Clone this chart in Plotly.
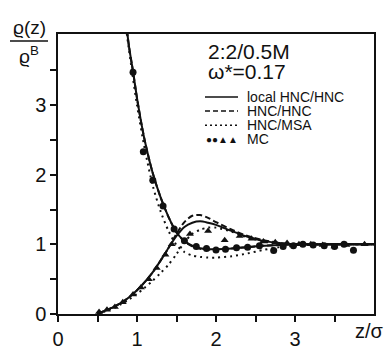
import plotly.graph_objects as go

# ---------------- data ----------------
z_A = [0.86, 0.9, 0.95, 1.0, 1.05, 1.1, 1.2, 1.3, 1.4, 1.5, 1.6, 1.7, 1.8, 1.9, 2.0, 2.2, 2.4, 2.6, 2.8, 3.0, 3.5, 4.0]
local_A = [4.2, 3.83, 3.48, 3.1, 2.77, 2.48, 2.02, 1.67, 1.39, 1.17, 1.05, 0.98, 0.945, 0.93, 0.93, 0.94, 0.96, 0.98, 0.99, 1.0, 1.0, 1.0]
hnc_A = [4.2, 3.83, 3.48, 3.1, 2.77, 2.48, 2.02, 1.67, 1.39, 1.17, 1.04, 0.97, 0.935, 0.925, 0.93, 0.94, 0.96, 0.98, 0.99, 1.0, 1.0, 1.0]

z_msaA = [0.85, 0.9, 1.0, 1.1, 1.2, 1.3, 1.4, 1.5, 1.6, 1.7, 1.8, 1.9, 2.0, 2.2, 2.4, 2.6, 2.8, 3.0, 3.2, 3.5, 4.0]
msa_A = [4.2, 3.78, 3.0, 2.36, 1.84, 1.47, 1.19, 0.99, 0.89, 0.84, 0.82, 0.81, 0.81, 0.83, 0.87, 0.92, 0.96, 0.98, 1.0, 1.0, 1.0]

z_B = [0.5, 0.6, 0.7, 0.8, 0.9, 1.0, 1.1, 1.2, 1.3, 1.4, 1.5, 1.6, 1.7, 1.8, 1.9, 2.0, 2.2, 2.4, 2.6, 2.8, 3.0, 3.5, 4.0]
local_B = [0.0, 0.05, 0.1, 0.16, 0.24, 0.34, 0.46, 0.6, 0.77, 0.95, 1.12, 1.25, 1.31, 1.33, 1.31, 1.28, 1.19, 1.11, 1.05, 1.02, 1.0, 1.0, 1.0]
hnc_B = [0.0, 0.05, 0.1, 0.16, 0.24, 0.34, 0.46, 0.6, 0.77, 0.95, 1.15, 1.32, 1.41, 1.42, 1.38, 1.32, 1.21, 1.12, 1.06, 1.02, 1.0, 1.0, 1.0]
msa_B = [0.0, 0.04, 0.08, 0.14, 0.21, 0.29, 0.38, 0.48, 0.59, 0.71, 0.86, 1.03, 1.15, 1.21, 1.24, 1.24, 1.18, 1.1, 1.04, 1.01, 1.0, 1.0, 1.0]

mc_circ_z = [0.95, 1.08, 1.2, 1.33, 1.47, 1.6, 1.75, 1.88, 2.0, 2.12, 2.26, 2.4, 2.55, 2.73, 2.85, 2.98, 3.1, 3.23, 3.37, 3.5, 3.62, 3.74]
mc_circ_r = [3.47, 2.33, 1.92, 1.55, 1.22, 1.05, 0.97, 0.94, 0.92, 0.93, 0.95, 0.96, 0.98, 0.91, 0.97, 0.98, 1.0, 0.99, 0.98, 0.97, 1.0, 0.915]

mc_tri_z = [0.52, 0.62, 0.72, 0.82, 0.95, 1.05, 1.15, 1.25, 1.36, 1.44, 1.67, 1.9, 2.11, 2.3, 2.45, 2.6, 2.75, 2.9, 3.05, 3.2, 3.35, 3.5, 3.65, 3.88]
mc_tri_r = [0.03, 0.06, 0.1, 0.17, 0.28, 0.38, 0.5, 0.66, 0.85, 1.0, 1.15, 1.19, 1.06, 1.12, 1.08, 1.04, 1.03, 1.02, 1.0, 1.0, 0.99, 0.97, 0.99, 1.0]

x_ticks = [0, 1, 2, 3]
y_ticks = [0, 1, 2, 3]

FONT = "Liberation Sans"
BLACK = "#111111"

fig = go.Figure()

def line(x, y, dash):
    fig.add_trace(go.Scatter(x=x, y=y, mode="lines", line=dict(color=BLACK, width=2, dash=dash, shape="spline", smoothing=0.8), showlegend=False, hoverinfo="skip"))

line(z_A, local_A, "solid")
line(z_A, hnc_A, "6px,3px")
line(z_msaA, msa_A, "2px,4px")
line(z_B, local_B, "solid")
line(z_B, hnc_B, "6px,3px")
line(z_B, msa_B, "2px,4px")

fig.add_trace(go.Scatter(x=mc_circ_z, y=mc_circ_r, mode="markers", marker=dict(symbol="circle", size=7, color=BLACK), showlegend=False))
fig.add_trace(go.Scatter(x=mc_tri_z, y=mc_tri_r, mode="markers", marker=dict(symbol="triangle-up", size=7, color=BLACK), showlegend=False))

L, R, T, B = 58, 16, 34, 30
W, H = 390, 362
pw, ph = W - L - R, H - T - B

def px(x):
    return (x - L) / pw

def py(y):
    return (H - B - y) / ph

fig.update_layout(
    width=W, height=H,
    margin=dict(l=L, r=R, t=T, b=B),
    paper_bgcolor="white", plot_bgcolor="white",
    font=dict(family=FONT, color=BLACK),
    xaxis=dict(range=[0, 4], tickmode="array", tickvals=x_ticks, ticktext=[str(v) for v in x_ticks],
               showgrid=False, zeroline=False, showline=True, linecolor=BLACK, linewidth=1.5, mirror=True,
               ticks="outside", ticklen=6, tickwidth=1.5, tickcolor=BLACK, tickfont=dict(size=20),
               minor=dict(tickvals=[0.5, 1.5, 2.5, 3.5], ticks="outside", ticklen=6, tickwidth=1.5, tickcolor=BLACK)),
    yaxis=dict(range=[0, 4.02], tickmode="array", tickvals=y_ticks, ticktext=[str(v) for v in y_ticks],
               showgrid=False, zeroline=False, showline=True, linecolor=BLACK, linewidth=1.5, mirror=True,
               ticks="outside", ticklen=6, tickwidth=1.5, tickcolor=BLACK, tickfont=dict(size=20),
               minor=dict(tickvals=[0.5, 1.5, 2.5, 3.5], ticks="outside", ticklen=6, tickwidth=1.5, tickcolor=BLACK)),
)

ann = []

def note(x, y, text, size, xanchor="center"):
    ann.append(dict(x=px(x), y=py(y), xref="paper", yref="paper", xanchor=xanchor, yanchor="middle",
                    text=text, showarrow=False, font=dict(size=size)))

# y-axis fraction label
note(29, 27, "ϱ(z)", 19)
note(29, 56, "ϱ<sup>B</sup>", 19)
# x-axis label
note(369, 350, "z/σ", 20)
# legend block
note(206, 53, "2:2/0.5M", 21, "left")
note(206, 74, "ω*=0.17", 21, "left")
leg_rows = [("local HNC/HNC", 101, "solid"), ("HNC/HNC", 116, "dash"), ("HNC/MSA", 131, "dot"), ("MC", 146, None)]
shapes = [dict(type="line", xref="paper", yref="paper", x0=px(10), x1=px(48), y0=py(41.5), y1=py(41.5), line=dict(color=BLACK, width=1.5))]
for text, yy, d in leg_rows:
    note(245, yy, text, 14, "left")
    if d is not None:
        dash = {"solid": "solid", "dash": "5px,3px", "dot": "2px,3px"}[d]
        shapes.append(dict(type="line", xref="paper", yref="paper", x0=px(205), x1=px(238), y0=py(yy), y1=py(yy), line=dict(color=BLACK, width=1.5, dash=dash)))
    else:
        note(240, yy, "●●▲▲", 10, "right")

fig.update_layout(annotations=ann, shapes=shapes)
fig.write_html("out.html")
